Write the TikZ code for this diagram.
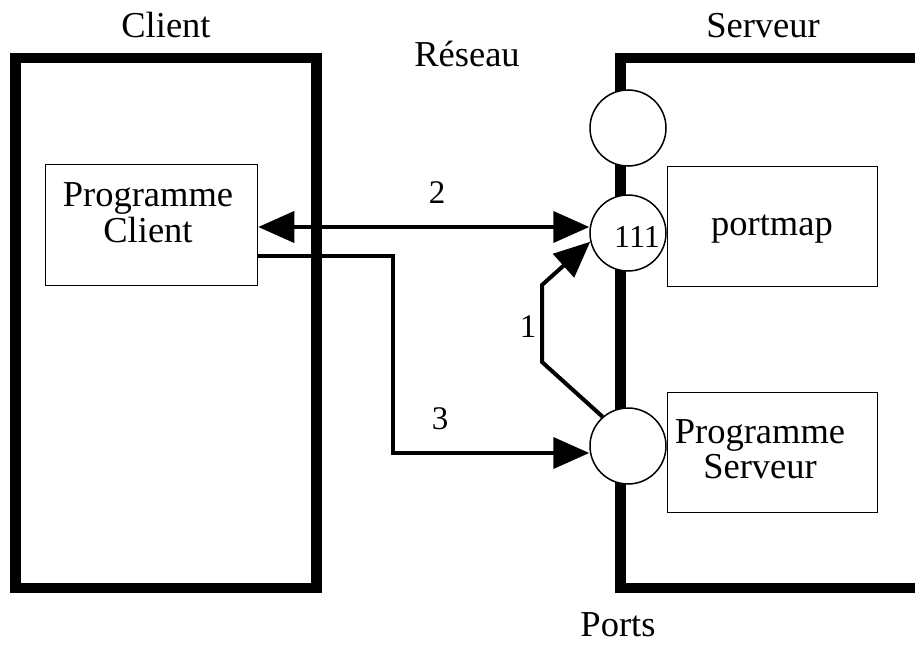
\documentclass[tikz,border=0pt]{standalone}
\usepackage{fontspec}
\setmainfont{Liberation Serif}
\usetikzlibrary{arrows.meta}
\begin{document}
\begin{tikzpicture}[x=1pt,y=-1pt,
  frame/.style={line width=10.5pt},
  thinbox/.style={draw,line width=1.5pt,inner sep=0pt},
  port/.style={circle,draw,fill=white,line width=1.5pt,minimum size=76pt,inner sep=0pt},
  lbl/.style={anchor=base,inner sep=0pt,font=\fontsize{36.5}{38}\selectfont},
  num/.style={anchor=base,inner sep=0pt,font=\fontsize{33}{35}\selectfont},
  conn/.style={line width=4pt},
  bigtip/.style={-{Triangle[length=36pt,width=31pt]}},
  bothtips/.style={{Triangle[length=36pt,width=31pt]}-{Triangle[length=36pt,width=31pt]}}]
\useasboundingbox (0,0) rectangle (915,658);

% machines
\draw[frame] (15.5,58) rectangle (316.5,588);
\draw[frame] (930,58) -- (620.5,58) -- (620.5,588) -- (930,588);

% ports
\node[port] (p0) at (628,128) {};
\node[port] (p111) at (628,233) {};
\node[port] (p3) at (628,446) {};
\node[anchor=base,inner sep=0pt,font=\fontsize{32}{34}\selectfont] (t111) at (637,247) {111};

% programs
\node[thinbox,minimum width=212pt,minimum height=121pt] (pc) at (151.5,225) {};
\node[lbl] (tpc1) at (148,206) {Programme};
\node[lbl] (tpc2) at (148,242) {Client};

\node[thinbox,minimum width=210pt,minimum height=120pt] (pm) at (772.5,226.5) {};
\node[lbl] (tpm) at (772,235) {portmap};

\node[thinbox,minimum width=210pt,minimum height=120pt] (ps) at (772.5,452.5) {};
\node[lbl] (tps1) at (760,443) {Programme};
\node[lbl] (tps2) at (760,478) {Serveur};

% titles
\node[lbl] (tclient) at (166,38) {Client};
\node[lbl] (treseau) at (467,67) {Réseau};
\node[lbl] (tserveur) at (763,38) {Serveur};
\node[lbl] (tports) at (618,636) {Ports};

% connectors
\coordinate (k1) at (542,362);
\coordinate (k2) at (542,285);
\coordinate (b3) at (393,453);

\draw[conn,bothtips] ([yshift=-2pt]pc.east) -- ([yshift=-2pt]pc.east -| p111.west);
\draw[conn,bigtip] ([yshift=-31pt]pc.east) -| (b3) -- ([yshift=-7pt]p3.west);
\draw[conn,bigtip] (p3.131) -- (k1) -- (k2) -- (p111.193);

\node[num] (n2) at (437,203) {2};
\node[num] (n1) at (528,337) {1};
\node[num] (n3) at (440,429) {3};
\end{tikzpicture}
\end{document}
